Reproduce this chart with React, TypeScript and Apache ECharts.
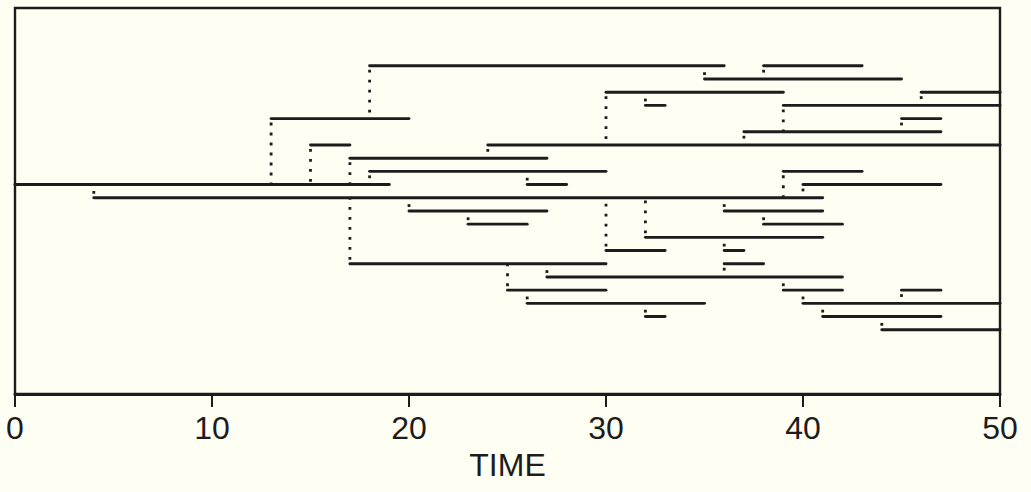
import React, { useEffect, useRef } from "react";
import * as echarts from "echarts";

// Each entry is one individual: the row it is drawn on, its birth and death time,
// and the row of the parent it descends from (null for the founder).
const rowIndex = [16, 15, 21, 19, 18, 17, 25, 14, 13, 19, 16, 10, 8, 9, 7, 6, 11, 12, 23, 22, 24, 25, 20, 22, 23, 21, 17, 16, 14, 11, 10, 13, 8, 7, 8, 6, 5];
const birthTime = [0, 4, 13, 15, 17, 18, 18, 20, 23, 24, 26, 17, 25, 27, 26, 32, 30, 32, 30, 32, 35, 38, 37, 39, 46, 45, 39, 40, 36, 36, 36, 38, 39, 40, 45, 41, 44];
const deathTime = [19, 41, 20, 17, 27, 30, 36, 27, 26, 50, 28, 30, 30, 42, 35, 33, 33, 41, 39, 33, 45, 43, 47, 50, 50, 47, 43, 47, 41, 37, 38, 42, 42, 50, 47, 47, 50];
const parentRowIndex: (number | null)[] = [null, 16, 16, 16, 16, 16, 21, 15, 14, 18, 17, 15, 10, 10, 8, 7, 15, 15, 19, 23, 25, 24, 19, 20, 22, 20, 15, 15, 15, 12, 9, 14, 9, 8, 7, 7, 6];

const timeTicks = [0, 10, 20, 30, 40, 50];

const INK = "#1c1c1c";
const PAPER = "#fffef2";

export default function App() {
  const ref = useRef<HTMLDivElement>(null);

  useEffect(() => {
    if (!ref.current) return;
    const chart = echarts.init(ref.current, undefined, { renderer: "svg" });

    const lifeData = rowIndex.map((r, i) => [birthTime[i], deathTime[i], r]);
    const linkData = rowIndex
      .map((r, i) => [birthTime[i], r, parentRowIndex[i]])
      .filter((d) => d[2] !== null);

    const option: any = {
      animation: false,
      backgroundColor: PAPER,
      grid: {
        left: 15,
        right: 31,
        top: 8,
        bottom: 98,
        show: true,
        borderColor: INK,
        borderWidth: 2.4,
        backgroundColor: "transparent",
      },
      xAxis: {
        type: "value",
        min: timeTicks[0],
        max: timeTicks[timeTicks.length - 1],
        interval: 10,
        name: "TIME",
        nameLocation: "middle",
        nameGap: 55,
        nameTextStyle: {
          fontFamily: "Liberation Sans",
          fontSize: 32,
          color: INK,
        },
        axisLine: { show: true, onZero: false, lineStyle: { color: INK, width: 3 } },
        axisTick: {
          show: true,
          inside: false,
          length: 13,
          lineStyle: { color: INK, width: 2 },
        },
        axisLabel: {
          margin: 18,
          fontFamily: "Liberation Sans",
          fontSize: 32,
          color: INK,
        },
        splitLine: { show: false },
      },
      yAxis: {
        type: "value",
        min: 0.13,
        max: 29.38,
        show: false,
        splitLine: { show: false },
      },
      series: [
        {
          type: "custom",
          name: "links",
          clip: false,
          z: 2,
          data: linkData,
          renderItem: (params: any, api: any) => {
            const t = api.value(0);
            const r = api.value(1);
            const p = api.value(2);
            const a = api.coord([t, r]);
            const b = api.coord([t, p]);
            return {
              type: "line",
              shape: { x1: a[0], y1: a[1], x2: b[0], y2: b[1] },
              style: {
                stroke: INK,
                lineWidth: 2.8,
                lineCap: "butt",
                lineDash: [2.8, 7.2],
                lineDashOffset: -3.7,
                fill: null,
              },
            };
          },
        },
        {
          type: "custom",
          name: "lives",
          clip: false,
          z: 3,
          data: lifeData,
          renderItem: (params: any, api: any) => {
            const s = api.coord([api.value(0), api.value(2)]);
            const e = api.coord([api.value(1), api.value(2)]);
            return {
              type: "line",
              shape: { x1: s[0], y1: s[1], x2: e[0], y2: e[1] },
              style: {
                stroke: INK,
                lineWidth: 2.9,
                lineCap: "round",
                fill: null,
              },
            };
          },
        },
      ],
    };

    chart.setOption(option);
    return () => chart.dispose();
  }, []);

  return (
    <div
      ref={ref}
      style={{
        position: "fixed",
        left: 0,
        top: 0,
        width: 1031,
        height: 492,
        background: PAPER,
      }}
    />
  );
}
